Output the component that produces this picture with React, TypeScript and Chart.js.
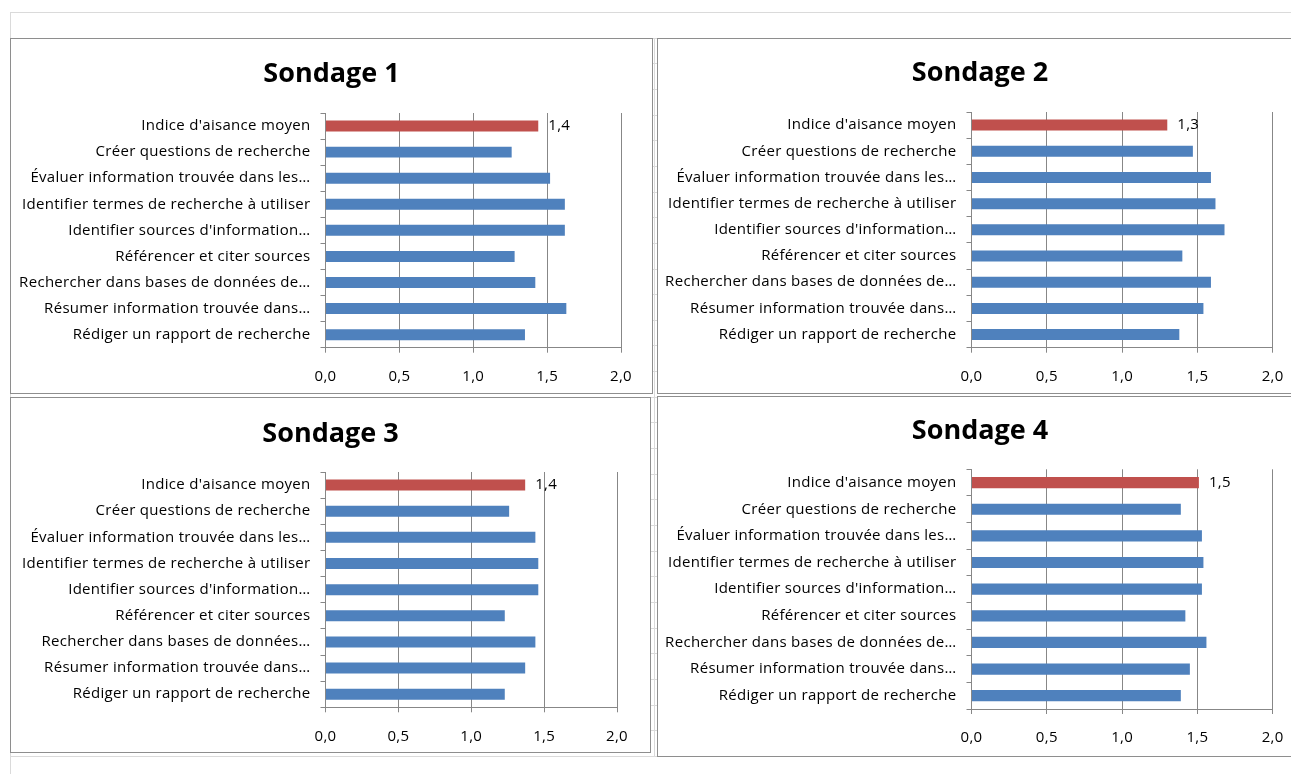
import React, { useEffect, useRef } from "react";
import { Chart, registerables } from "chart.js";

Chart.register(...registerables);

// ---------- DATA ----------
const categories = [
  "Indice d'aisance moyen",
  "Créer questions de recherche",
  "Évaluer information trouvée dans les…",
  "Identifier termes de recherche à utiliser",
  "Identifier sources d'information…",
  "Référencer et citer sources",
  "Rechercher dans bases de données de…",
  "Résumer information trouvée dans…",
  "Rédiger un rapport de recherche",
];
const categoriesSondage3 = [
  "Indice d'aisance moyen",
  "Créer questions de recherche",
  "Évaluer information trouvée dans les…",
  "Identifier termes de recherche à utiliser",
  "Identifier sources d'information…",
  "Référencer et citer sources",
  "Rechercher dans bases de données…",
  "Résumer information trouvée dans…",
  "Rédiger un rapport de recherche",
];
const sondage1 = [1.44, 1.26, 1.52, 1.62, 1.62, 1.28, 1.42, 1.63, 1.35];
const sondage2 = [1.30, 1.47, 1.59, 1.62, 1.68, 1.40, 1.59, 1.54, 1.38];
const sondage3 = [1.37, 1.26, 1.44, 1.46, 1.46, 1.23, 1.44, 1.37, 1.23];
const sondage4 = [1.51, 1.39, 1.53, 1.54, 1.53, 1.42, 1.56, 1.45, 1.39];
const xTicks = [0, 0.5, 1, 1.5, 2];
const titles = ["Sondage 1", "Sondage 2", "Sondage 3", "Sondage 4"];
const labelledBars = [0];

// ---------- STYLE ----------
const FONT = "'Open Sans', Lato, sans-serif";
const LABEL_SIZE = 15;
const TITLE_SIZE = 27;
const LETTER_SPACING = "0.3px";
const BLUE = "#4F81BD";
const RED = "#C0504D";
const GRID = "#878787";
const PANEL_BORDER = "#8e8e8e";
const SHEET_LINE = "#dadada";

const fmt = (v: number) => Number(v).toFixed(1).replace(".", ",");

type PanelSpec = {
  title: string;
  labels: string[];
  values: number[];
  left: number;
  top: number;
  width: number;
  height: number;
  plotLeft: number;
  plotRight: number;
  plotTop: number;
  plotBottom: number;
  titleY: number;
};

const panels: PanelSpec[] = [
  { title: titles[0], labels: categories, values: sondage1, left: 10, top: 38, width: 643, height: 356,
    plotLeft: 314.5, plotRight: 610, plotTop: 74, plotBottom: 308.7, titleY: 35 },
  { title: titles[1], labels: categories, values: sondage2, left: 657, top: 38, width: 646, height: 356,
    plotLeft: 313.5, plotRight: 614.7, plotTop: 73, plotBottom: 308.7, titleY: 34 },
  { title: titles[2], labels: categoriesSondage3, values: sondage3, left: 10, top: 397, width: 641, height: 356,
    plotLeft: 314.5, plotRight: 606, plotTop: 74, plotBottom: 309.3, titleY: 36 },
  { title: titles[3], labels: categories, values: sondage4, left: 657, top: 396, width: 646, height: 361,
    plotLeft: 313.5, plotRight: 614.7, plotTop: 72.3, plotBottom: 312, titleY: 34 },
];

// Slightly wider text spacing (Excel / Calibri look)
const spacingPlugin = {
  id: "spacing",
  beforeDraw(chart: any) {
    try {
      (chart.ctx as any).letterSpacing = LETTER_SPACING;
    } catch (e) {
      /* unsupported */
    }
  },
};

// Value label next to the highlighted (average) bar
const valueLabelPlugin = {
  id: "valueLabel",
  afterDatasetsDraw(chart: any) {
    const meta = chart.getDatasetMeta(0);
    const ctx = chart.ctx;
    labelledBars.forEach((i) => {
      const el = meta.data[i];
      const v = chart.data.datasets[0].data[i] as number;
      ctx.save();
      ctx.font = `${LABEL_SIZE}px ${FONT}`;
      ctx.fillStyle = "#000";
      ctx.textAlign = "left";
      ctx.textBaseline = "middle";
      ctx.fillText(fmt(v), el.x + 10, el.y);
      ctx.restore();
    });
  },
};

// Title centred on the whole chart box (Excel style)
const centeredTitlePlugin = {
  id: "centeredTitle",
  afterDraw(chart: any, _args: any, opts: any) {
    const ctx = chart.ctx;
    ctx.save();
    try {
      (ctx as any).letterSpacing = "0px";
    } catch (e) {
      /* unsupported */
    }
    ctx.font = `bold ${TITLE_SIZE}px ${FONT}`;
    ctx.fillStyle = "#000";
    ctx.textAlign = "center";
    ctx.textBaseline = "middle";
    ctx.fillText(opts.text, chart.width / 2, opts.y);
    ctx.restore();
  },
};

function Panel({ spec }: { spec: PanelSpec }) {
  const ref = useRef<HTMLCanvasElement>(null);
  const cw = spec.width - 2;
  const ch = spec.height - 2;
  useEffect(() => {
    if (!ref.current) return;
    const font = { family: FONT, size: LABEL_SIZE };
    const chart = new Chart(ref.current, {
      type: "bar",
      data: {
        labels: spec.labels,
        datasets: [
          {
            data: spec.values,
            backgroundColor: spec.values.map((_, i) => (i === 0 ? RED : BLUE)),
            barPercentage: 0.42,
            categoryPercentage: 1,
            borderWidth: 0,
          },
        ],
      },
      options: {
        indexAxis: "y",
        responsive: false,
        maintainAspectRatio: false,
        animation: false,
        events: [],
        layout: { padding: { left: 0, right: cw - spec.plotRight, top: spec.plotTop, bottom: 0 } },
        plugins: {
          legend: { display: false },
          tooltip: { enabled: false },
          title: { display: false },
          centeredTitle: { text: spec.title, y: spec.titleY },
        },
        scales: {
          x: {
            type: "linear",
            min: 0,
            max: 2,
            afterBuildTicks: (s: any) => {
              s.ticks = xTicks.map((v) => ({ value: v }));
            },
            ticks: { callback: (v: any) => fmt(v), color: "#000", font, padding: 15, maxRotation: 0 },
            grid: { color: GRID, lineWidth: 1, tickLength: 5, drawTicks: true },
            border: { color: GRID, width: 1 },
            afterFit: (s: any) => {
              s.height = ch - spec.plotBottom;
            },
          },
          y: {
            ticks: { color: "#000", font, padding: 10, autoSkip: false },
            grid: { drawOnChartArea: false, color: GRID, tickLength: 5, drawTicks: true },
            border: { color: GRID, width: 1 },
            afterFit: (s: any) => {
              s.width = spec.plotLeft;
            },
          },
        },
      } as any,
      plugins: [spacingPlugin, valueLabelPlugin, centeredTitlePlugin],
    });
    return () => chart.destroy();
  }, []);
  return (
    <div
      style={{
        position: "absolute",
        left: spec.left,
        top: spec.top,
        width: spec.width,
        height: spec.height,
        boxSizing: "border-box",
        border: `1px solid ${PANEL_BORDER}`,
        background: "#fff",
      }}
    >
      <canvas ref={ref} width={cw} height={ch} style={{ display: "block", width: cw, height: ch }} />
    </div>
  );
}

export default function App() {
  const rows: number[] = [];
  for (let y = 12; y < 774; y += 25.65) rows.push(Math.round(y));
  return (
    <div
      style={{
        position: "absolute",
        left: 0,
        top: 0,
        width: 1291,
        height: 774,
        background: "#fff",
        overflow: "hidden",
      }}
    >
      {rows.map((y) => (
        <div key={y} style={{ position: "absolute", left: 10, top: y, width: 1281, height: 1, background: SHEET_LINE }} />
      ))}
      <div style={{ position: "absolute", left: 10, top: 12, width: 1, height: 762, background: SHEET_LINE }} />
      <div style={{ position: "absolute", left: 654, top: 38, width: 1, height: 718, background: SHEET_LINE }} />
      {panels.map((p) => (
        <Panel key={p.title} spec={p} />
      ))}
    </div>
  );
}
